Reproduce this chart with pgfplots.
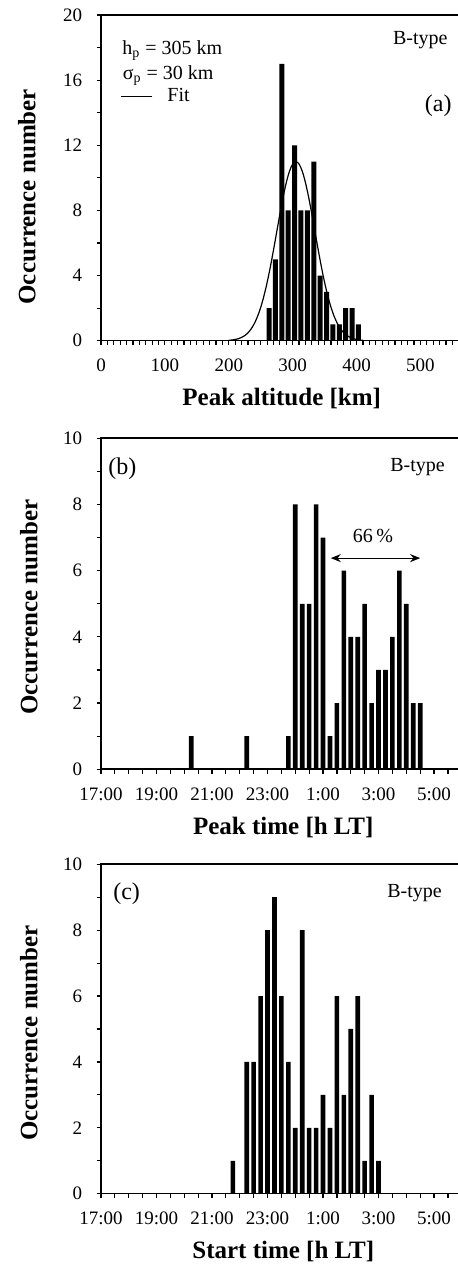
\documentclass[border=0pt]{standalone}
\usepackage{fontspec}
\setmainfont{Liberation Serif}
\usepackage{pgfplots}
\pgfplotsset{compat=1.18}
\usetikzlibrary{arrows.meta}

\pgfplotsset{
  myaxis/.style={
    scale only axis,
    anchor=south west,
    axis line style={line width=0.8pt},
    every tick/.style={line width=0.6pt, black},
    tick align=outside,
    tick pos=left,
    major tick length=2.2pt,
    minor tick length=2.2pt,
    /pgf/number format/assume math mode=true,
    tick label style={font=\fontsize{9.5}{11}\selectfont},
    xticklabel style={yshift=-3.5pt},
    yticklabel style={xshift=-3.7pt},
    label style={font=\fontsize{12.5}{14}\selectfont\bfseries},
    ylabel={Occurrence number},
    xlabel style={at={(axis description cs:0.505,0)}, anchor=base, yshift=-32.5pt},
  },
  mybar/.style={ybar, fill=black, draw=none, bar shift=0pt},
}

\begin{document}
\begin{tikzpicture}

% ---------------- (a) ----------------
\begin{axis}[myaxis,
  at={(50.5pt,463.15pt)}, width=178.9pt, height=162.85pt,
  xmin=0, xmax=560, ymin=0, ymax=20,
  xtick={0,100,...,500}, minor xtick={10,20,...,550},
  ytick={0,4,...,20}, minor ytick={2,6,...,18},
  xlabel={Peak altitude [km]},
  ylabel style={at={(axis description cs:-0.207,0.442)}, anchor=center},
  legend style={draw=none, fill=none, at={(axis cs:31.3,15.0)}, anchor=west,
    inner sep=0pt, outer sep=0pt, nodes={inner sep=0pt, font=\fontsize{10}{12}\selectfont}},
  legend image code/.code={\draw[#1] (0pt,0pt) -- (15.5pt,0pt); \path (23pt,0pt);},
]
\addplot[mybar, bar width=7.8] coordinates {
 (263,2) (273,5) (283,17) (293,8) (303,12) (313,8) (323,8) (333,11)
 (343,4) (353,3) (363,1) (373,1) (383,2) (393,2) (403,1)};
\addplot[black, line width=0.6pt, smooth] coordinates {
 (200,0.024) (205,0.0425) (210,0.0731) (215,0.1222) (220,0.1987) (225,0.3142)
 (230,0.4833) (235,0.7228) (240,1.052) (245,1.489) (250,2.049) (255,2.743)
 (260,3.571) (265,4.522) (270,5.570) (275,6.672) (280,7.773) (285,8.808)
 (290,9.708) (295,10.406) (300,10.848) (305,11.0) (310,10.848) (315,10.406)
 (320,9.708) (325,8.808) (330,7.773) (335,6.672) (340,5.570) (345,4.522)
 (350,3.571) (355,2.743) (360,2.049) (365,1.489) (370,1.052) (375,0.7228)
 (380,0.4833) (385,0.3142) (390,0.1987) (395,0.1222) (400,0.0731) (405,0.0425)
 (410,0.024)};
\addlegendentry{Fit}
\node[anchor=base west, inner sep=0pt, font=\fontsize{10}{12}\selectfont] at (axis cs:32.9,17.55) {h\textsubscript{p} = 305 km};
\node[anchor=base west, inner sep=0pt, font=\fontsize{10}{12}\selectfont] at (axis cs:33.5,16.01) {σ\textsubscript{p} = 30 km};
\node[anchor=base east, inner sep=0pt, font=\fontsize{10}{12}\selectfont] at (axis cs:543,18.16) {B-type};
\node[anchor=base east, inner sep=0pt, font=\fontsize{12}{14}\selectfont] at (axis cs:549.3,14.05) {(a)};
\end{axis}

% ---------------- (b) ----------------
\begin{axis}[myaxis,
  at={(50.5pt,248.85pt)}, width=180.4pt, height=165.5pt,
  xmin=17, xmax=30, ymin=0, ymax=10,
  xtick={17,19,...,29}, xticklabels={17:00,19:00,21:00,23:00,1:00,3:00,5:00},
  minor xtick={17.5,18,...,29.5},
  ytick={0,2,...,10}, minor ytick={1,3,...,9},
  xlabel={Peak time [h LT]},
  ylabel style={at={(axis description cs:-0.2,0.49)}, anchor=center},
]
\addplot[mybar, bar width=0.168] coordinates {
 (20.25,1) (22.25,1) (23.75,1) (24,8) (24.25,5) (24.5,5) (24.75,8) (25,7)
 (25.25,1) (25.5,2) (25.75,6) (26,4) (26.25,4) (26.5,5) (26.75,2) (27,3)
 (27.25,3) (27.5,4) (27.75,6) (28,5) (28.25,2) (28.5,2)};
\draw[{Stealth[length=5pt,width=4pt]}-{Stealth[length=5pt,width=4pt]}, line width=0.6pt]
  (axis cs:25.28,6.38) -- (axis cs:28.5,6.38);
\node[anchor=base, inner sep=0pt, font=\fontsize{10}{12}\selectfont] at (axis cs:26.8,6.85) {66\,\%};
\node[anchor=base west, inner sep=0pt, font=\fontsize{12}{14}\selectfont] at (axis cs:17.25,8.92) {(b)};
\node[anchor=base east, inner sep=0pt, font=\fontsize{10}{12}\selectfont] at (axis cs:29.4,8.99) {B-type};
\end{axis}

% ---------------- (c) ----------------
\begin{axis}[myaxis,
  at={(50.5pt,36.65pt)}, width=180.4pt, height=164.7pt,
  xmin=17, xmax=30, ymin=0, ymax=10,
  xtick={17,19,...,29}, xticklabels={17:00,19:00,21:00,23:00,1:00,3:00,5:00},
  minor xtick={17.5,18,...,29.5},
  ytick={0,2,...,10}, minor ytick={1,3,...,9},
  xlabel={Start time [h LT]},
  ylabel style={at={(axis description cs:-0.2,0.488)}, anchor=center},
]
\addplot[mybar, bar width=0.168] coordinates {
 (21.75,1) (22.25,4) (22.5,4) (22.75,6) (23,8) (23.25,9) (23.5,6) (23.75,4)
 (24,2) (24.25,8) (24.5,2) (24.75,2) (25,3) (25.25,2) (25.5,6) (25.75,3)
 (26,5) (26.25,6) (26.5,1) (26.75,3) (27,1)};
\node[anchor=base west, inner sep=0pt, font=\fontsize{12}{14}\selectfont] at (axis cs:17.43,8.92) {(c)};
\node[anchor=base east, inner sep=0pt, font=\fontsize{10}{12}\selectfont] at (axis cs:29.29,9.0) {B-type};
\end{axis}

\pgfresetboundingbox
\path[use as bounding box] (0pt,0pt) rectangle (228.5pt,633.5pt);
\end{tikzpicture}
\end{document}
